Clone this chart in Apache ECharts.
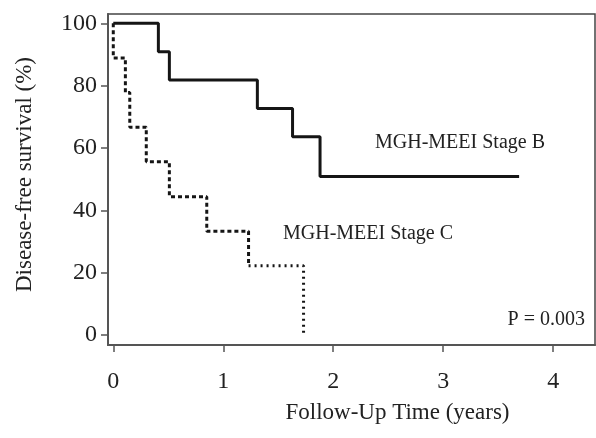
<!DOCTYPE html>
<html lang="en">
<head>
    <meta charset="UTF-8">
    <title>Disease-free survival</title>
    <script src="https://cdn.jsdelivr.net/npm/echarts@6/dist/echarts.min.js"></script>
    <style>
        html, body { margin: 0; padding: 0; background: #fff; }
    </style>
</head>
<body>
<div id="main" style="width:596px;height:438px;"></div>
<script>
    // Kaplan-Meier step data
    var stageBTime = [0, 0.41, 0.51, 1.31, 1.63, 1.88, 3.69];
    var stageBSurv = [100, 90.9, 81.8, 72.7, 63.6, 50.9, 50.9];

    var stageCTime = [0, 0, 0.11, 0.15, 0.30, 0.51, 0.85, 1.23];
    var stageCSurv = [100, 88.9, 77.8, 66.7, 55.6, 44.4, 33.3, 22.2];
    // last part of stage C is drawn dotted
    var stageCTailTime = [1.23, 1.73];
    var stageCTailSurv = [22.2, 0];

    var xTicks = [0, 1, 2, 3, 4];
    var yTicks = [0, 20, 40, 60, 80, 100];

    function pairs(xs, ys) {
        return xs.map(function (x, i) { return [x, ys[i]]; });
    }

    var font = "'Liberation Serif', 'Times New Roman', serif";
    var ink = '#151515';
    var axisCol = '#555';

    var myChart = echarts.init(document.getElementById('main'));
    myChart.setOption({
        animation: false,
        textStyle: { fontFamily: font },
        grid: {
            left: 108, right: 1, top: 14, bottom: 93,
            show: true, borderColor: '#444', borderWidth: 1.5
        },
        xAxis: {
            type: 'value',
            min: -0.048, max: 4.38,
            splitLine: { show: false },
            axisLine: { onZero: false, lineStyle: { color: axisCol, width: 2 } },
            axisTick: { customValues: xTicks, length: 7, lineStyle: { color: axisCol, width: 1.5 } },
            axisLabel: { customValues: xTicks, margin: 25, fontSize: 24, color: '#222', fontFamily: font },
            name: 'Follow-Up Time (years)',
            nameLocation: 'middle',
            nameGap: 56,
            nameTextStyle: { fontSize: 23, color: '#222', fontFamily: font, padding: [0, 0, 0, 92] }
        },
        yAxis: {
            type: 'value',
            min: -3.2, max: 103,
            splitLine: { show: false },
            axisLine: { onZero: false, lineStyle: { color: axisCol, width: 2 } },
            axisTick: { customValues: yTicks, length: 7, lineStyle: { color: axisCol, width: 1.5 } },
            axisLabel: { customValues: yTicks, margin: 11, fontSize: 24, color: '#222', fontFamily: font },
            name: 'Disease-free survival (%)',
            nameLocation: 'middle',
            nameGap: 72,
            nameTextStyle: { fontSize: 23, color: '#222', fontFamily: font, padding: [0, 0, 0, 10] }
        },
        series: [
            {
                name: 'MGH-MEEI Stage B',
                type: 'line',
                step: 'end',
                showSymbol: false,
                lineStyle: { color: ink, width: 3 },
                data: pairs(stageBTime, stageBSurv)
            },
            {
                name: 'MGH-MEEI Stage C',
                type: 'line',
                step: 'end',
                showSymbol: false,
                lineStyle: { color: ink, width: 3, type: [4, 3] },
                data: pairs(stageCTime, stageCSurv)
            },
            {
                name: 'MGH-MEEI Stage C tail',
                type: 'line',
                step: 'end',
                showSymbol: false,
                lineStyle: { color: ink, width: 3, type: [2, 4] },
                data: pairs(stageCTailTime, stageCTailSurv)
            }
        ],
        graphic: [
            {
                type: 'text', x: 375, y: 143,
                style: { text: 'MGH-MEEI Stage B', font: '20px ' + font, fill: '#222', verticalAlign: 'middle' }
            },
            {
                type: 'text', x: 283, y: 234,
                style: { text: 'MGH-MEEI Stage C', font: '20px ' + font, fill: '#222', verticalAlign: 'middle' }
            },
            {
                type: 'text', x: 585, y: 320,
                style: { text: 'P = 0.003', font: '20px ' + font, fill: '#222', align: 'right', verticalAlign: 'middle' }
            }
        ]
    });
</script>
</body>
</html>
